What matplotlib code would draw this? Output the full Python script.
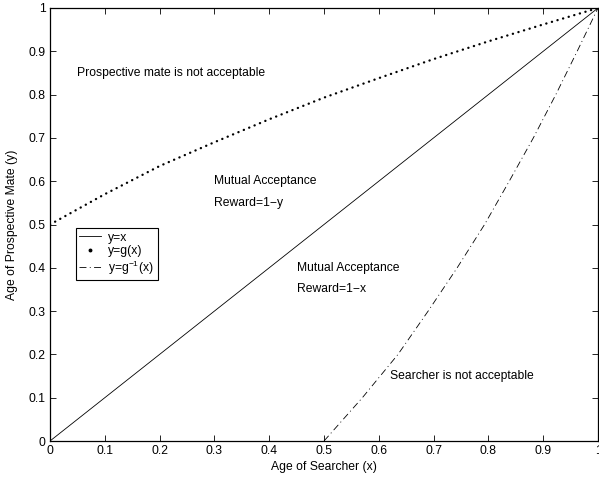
import numpy as np
import matplotlib
matplotlib.use("Agg")
import matplotlib.pyplot as plt
from matplotlib.lines import Line2D

# ── Data ──────────────────────────────────────────────────────────────────────

line_x = [0.0, 1.0]
line_y = [0.0, 1.0]

g_x = [0.0, 0.1, 0.2, 0.3, 0.4, 0.5, 0.6, 0.7, 0.8, 0.9, 1.0]
g_y = [0.50, 0.57, 0.635, 0.69, 0.743, 0.793, 0.838, 0.882, 0.923, 0.962, 1.0]

ginv_x = [0.50, 0.57, 0.635, 0.69, 0.743, 0.793, 0.838, 0.882, 0.923, 0.962, 1.0]
ginv_y = [0.0, 0.1, 0.2, 0.3, 0.4, 0.5, 0.6, 0.7, 0.8, 0.9, 1.0]

ticks = [0, 0.1, 0.2, 0.3, 0.4, 0.5, 0.6, 0.7, 0.8, 0.9, 1]
tick_labels = ["0", "0.1", "0.2", "0.3", "0.4", "0.5", "0.6", "0.7", "0.8", "0.9", "1"]

labels = [
    ("Prospective mate is not acceptable", 0.05, 0.85),
    ("Mutual Acceptance", 0.30, 0.60),
    ("Reward=1\u2212y", 0.30, 0.55),
    ("Mutual Acceptance", 0.45, 0.40),
    ("Reward=1\u2212x", 0.45, 0.35),
    ("Searcher is not acceptable", 0.62, 0.15),
]

# ── Style ─────────────────────────────────────────────────────────────────────

FS = 8.7

plt.rcParams.update({
    "font.family": ["Liberation Sans", "DejaVu Sans"],
    "font.size": FS,
    "mathtext.default": "regular",
    "lines.scale_dashes": False,
    "xtick.direction": "in",
    "ytick.direction": "in",
    "xtick.top": True,
    "ytick.right": True,
})

fig = plt.figure(figsize=(5.99, 4.80), dpi=100)
ax = fig.add_axes([50 / 599, 39 / 480, 548 / 599, 433 / 480])

ax.plot(line_x, line_y, color="black", lw=0.6, label="y=x")
ax.plot(g_x, g_y, color="black", lw=1.7, linestyle=(0, (0.1, 4.1)),
        dash_capstyle="round")
ax.plot(ginv_x, ginv_y, color="black", lw=0.6, linestyle=(0, (5, 2.4, 0.7, 2.4)))

for txt, x, y in labels:
    ax.text(x, y, txt, ha="left", va="center", fontsize=FS)

handles = [
    Line2D([], [], color="black", lw=0.6),
    Line2D([], [], color="black", ls="none", marker="o", ms=1.8),
    Line2D([], [], color="black", lw=0.6, linestyle=(0, (5, 2.4, 0.7, 2.4))),
]
leg = ax.legend(handles, ["y=x", "y=g(x)", "y=g$^{-1}$(x)"],
                loc="upper left", bbox_to_anchor=(0.047, 0.492),
                fancybox=False, framealpha=1, edgecolor="black",
                fontsize=FS, handlelength=1.8, handletextpad=0.6,
                labelspacing=0.12, borderpad=0.3, borderaxespad=0)
leg.get_frame().set_linewidth(0.8)

ax.set_xlim(0, 1)
ax.set_ylim(0, 1)
ax.set_xticks(ticks)
ax.set_xticklabels(tick_labels)
ax.set_yticks(ticks)
ax.set_yticklabels(tick_labels)
ax.tick_params(length=4, width=0.6, labelsize=FS, pad=3)
for s in ax.spines.values():
    s.set_linewidth(0.9)

ax.set_xlabel("Age of Searcher (x)", fontsize=FS, labelpad=3)
ax.set_ylabel("Age of Prospective Mate (y)", fontsize=FS, labelpad=8)

fig.savefig("out.png", dpi=100)
